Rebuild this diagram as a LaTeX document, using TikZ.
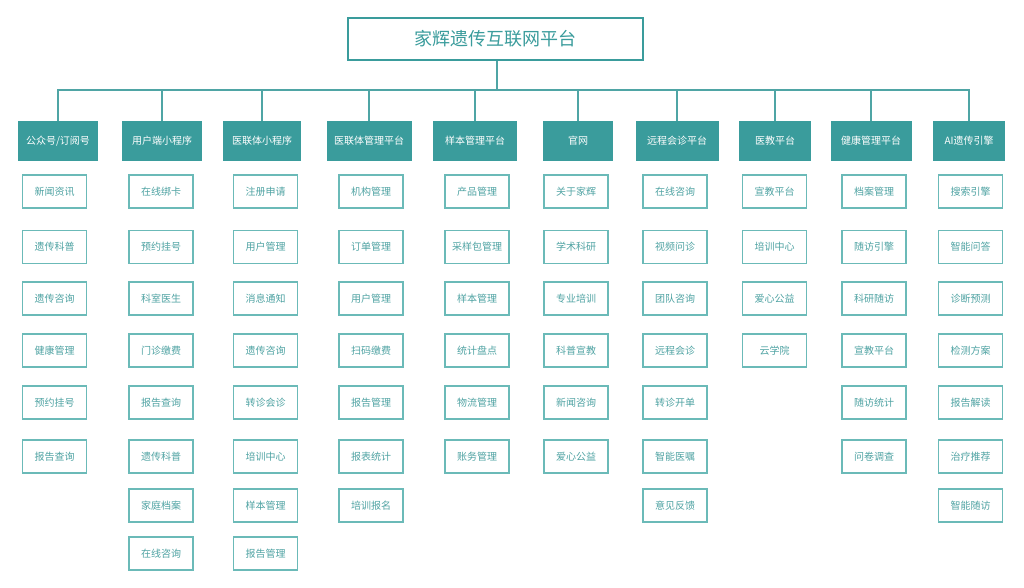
\documentclass[tikz,border=0pt]{standalone}
\usepackage{fontspec}
\setmainfont{Noto Sans CJK SC}
\definecolor{teal1}{HTML}{3A9C9C}
\definecolor{teal2}{HTML}{6BBAB8}
\definecolor{tealtxt}{HTML}{4FA3A3}
\definecolor{lineC}{HTML}{4FA5A5}
\tikzset{
  titlebox/.style={draw=teal1,line width=1.3pt,minimum width=295pt,minimum height=42pt,text=teal1,font=\fontsize{18}{20}\selectfont,inner sep=0pt},
  headbox/.style={fill=teal1,minimum height=40pt,text=white,font=\fontsize{10}{12}\selectfont,inner sep=0pt},
  leafbox/.style={draw=teal2,line width=1.4pt,fill=white,minimum width=64pt,minimum height=33pt,text=tealtxt,font=\fontsize{10}{12}\selectfont,inner sep=0pt},
  conn/.style={draw=lineC,line width=1.4pt}
}
\begin{document}
\begin{tikzpicture}[x=1pt,y=1pt]
\useasboundingbox[fill=white] (0,0) rectangle (1024,-588);
\node[titlebox] (t) at (495.5,-39) {家辉遗传互联网平台};
\coordinate (bus) at (497,-90);
% headers
\node[headbox,minimum width=80pt] (h1) at (58,-141) {公众号/订阅号};
\node[headbox,minimum width=80pt] (h2) at (162,-141) {用户端小程序};
\node[headbox,minimum width=78pt] (h3) at (262,-141) {医联体小程序};
\node[headbox,minimum width=85pt] (h4) at (369,-141) {医联体管理平台};
\node[headbox,minimum width=84pt] (h5) at (475,-141) {样本管理平台};
\node[headbox,minimum width=70pt] (h6) at (578,-141) {官网};
\node[headbox,minimum width=83pt] (h7) at (677,-141) {远程会诊平台};
\node[headbox,minimum width=72pt] (h8) at (775,-141) {医教平台};
\node[headbox,minimum width=81pt] (h9) at (871,-141) {健康管理平台};
\node[headbox,minimum width=72pt] (h10) at (969,-141) {AI遗传引擎};
\draw[conn] (t.south -| bus) -- (bus);
\foreach \i in {1,...,10} {\draw[conn] (h\i.north) |- (bus);}
% leaves
\def\rowY#1{\ifcase#1\or -191.5\or -247\or -298.5\or -350.5\or -402.5\or -456.5\or -505.5\or -553.5\fi}
\foreach \col/\cx/\items in {
 1/54.5/{新闻资讯,遗传科普,遗传咨询,健康管理,预约挂号,报告查询},
 2/161/{在线绑卡,预约挂号,科室医生,门诊缴费,报告查询,遗传科普,家庭档案,在线咨询},
 3/265.5/{注册申请,用户管理,消息通知,遗传咨询,转诊会诊,培训中心,样本管理,报告管理},
 4/371/{机构管理,订单管理,用户管理,扫码缴费,报告管理,报表统计,培训报名},
 5/477/{产品管理,采样包管理,样本管理,统计盘点,物流管理,账务管理},
 6/576/{关于家辉,学术科研,专业培训,科普宣教,新闻咨询,爱心公益},
 7/675/{在线咨询,视频问诊,团队咨询,远程会诊,转诊开单,智能医嘱,意见反馈},
 8/774.5/{宣教平台,培训中心,爱心公益,云学院},
 9/874/{档案管理,随访引擎,科研随访,宣教平台,随访统计,问卷调查},
 10/970.5/{搜索引擎,智能问答,诊断预测,检测方案,报告解读,治疗推荐,智能随访}} {
  \foreach \txt [count=\r] in \items {
    \node[leafbox] (c\col-\r) at (\cx,{\rowY{\r}}) {\txt};
  }
}
\end{tikzpicture}
\end{document}
